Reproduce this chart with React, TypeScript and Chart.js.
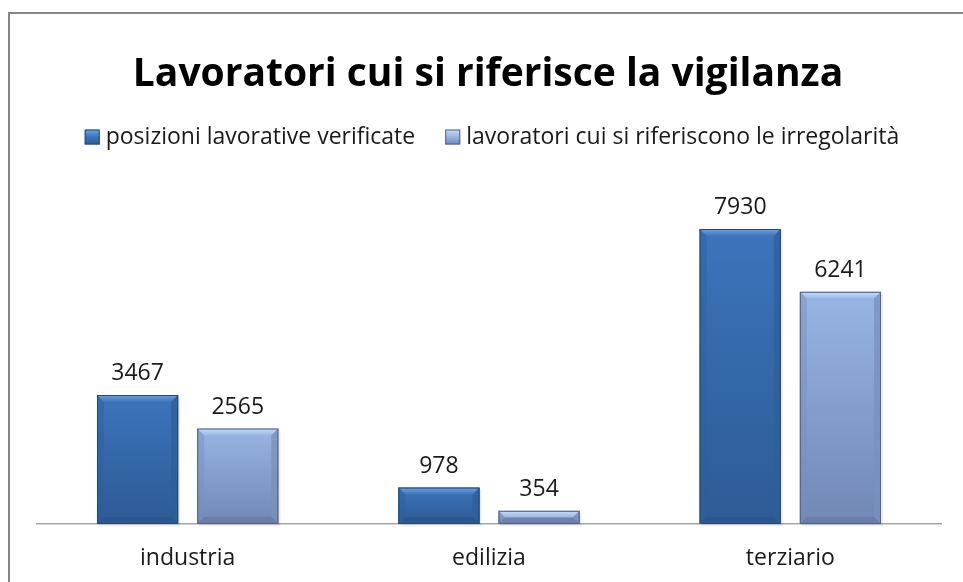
import React, { useEffect, useRef } from "react";
import { Chart, registerables } from "chart.js";

Chart.register(...registerables);

const TITLE = "Lavoratori cui si riferisce la vigilanza";
const categories = ["industria", "edilizia", "terziario"];
const seriesNames = ["posizioni lavorative verificate", "lavoratori cui si riferiscono le irregolarità"];
const posizioni = [3467, 978, 7930];
const irregolarita = [2565, 354, 6241];

const FONT = "'Open Sans', 'Noto Sans', sans-serif";

const palettes = [
  { top: "#3c74bb", bottom: "#2d5b95", hi: "#6fa3e2", side: "#2f5f9b", low: "#2a5388", edge: "#24497a" },
  { top: "#97b5e4", bottom: "#7187b4", hi: "#cadcf6", side: "#7890bd", low: "#62769e", edge: "#4f6185" },
];

const framePlugin = {
  id: "frame",
  beforeDraw(chart: any) {
    const ctx = chart.ctx;
    ctx.save();
    ctx.fillStyle = "#ffffff";
    ctx.fillRect(0, 0, chart.width, chart.height);
    ctx.strokeStyle = "#868686";
    ctx.lineWidth = 2;
    ctx.beginPath();
    ctx.moveTo(9, chart.height);
    ctx.lineTo(9, 13);
    ctx.lineTo(chart.width, 13);
    ctx.stroke();
    ctx.restore();
  },
};

const headerPlugin = {
  id: "header",
  afterDraw(chart: any) {
    const ctx = chart.ctx;
    ctx.save();
    ctx.fillStyle = "#000000";
    ctx.font = `bold 39px ${FONT}`;
    ctx.textAlign = "center";
    ctx.textBaseline = "alphabetic";
    ctx.fillText(TITLE, 488, 86);

    // legend
    ctx.font = `23px ${FONT}`;
    const box = 15;
    const gapBoxText = 6;
    const gapItems = 30;
    const widths = chart.data.datasets.map((d: any) => ctx.measureText(d.label).width);
    const total = widths.reduce((a: number, w: number) => a + box + gapBoxText + w, 0) + gapItems * (widths.length - 1);
    let x = 492 - total / 2;
    const cy = 137;
    chart.data.datasets.forEach((d: any, i: number) => {
      const p = palettes[i];
      const g = ctx.createLinearGradient(0, cy - box / 2, 0, cy + box / 2);
      g.addColorStop(0, p.hi);
      g.addColorStop(0.5, p.top);
      g.addColorStop(1, p.bottom);
      ctx.fillStyle = g;
      ctx.fillRect(x, cy - box / 2, box, box);
      ctx.strokeStyle = p.edge;
      ctx.lineWidth = 1;
      ctx.strokeRect(x + 0.5, cy - box / 2 + 0.5, box - 1, box - 1);
      x += box + gapBoxText;
      ctx.fillStyle = "#1a1a1a";
      ctx.textAlign = "left";
      ctx.textBaseline = "middle";
      ctx.fillText(d.label, x, cy);
      x += widths[i] + gapItems;
    });
    ctx.restore();
  },
};

const bevelPlugin = {
  id: "bevel",
  afterDatasetsDraw(chart: any) {
    const ctx = chart.ctx;
    ctx.save();
    chart.data.datasets.forEach((ds: any, di: number) => {
      const meta = chart.getDatasetMeta(di);
      const p = palettes[di];
      meta.data.forEach((bar: any, i: number) => {
        const { x, y, base, width } = bar.getProps(["x", "y", "base", "width"], true);
        const l = x - width / 2;
        const r = x + width / 2;
        const t = y;
        const b = base;
        const h = b - t;
        const bv = Math.min(7, h / 2);
        // shadow
        ctx.fillStyle = "rgba(0,0,0,0.07)";
        ctx.fillRect(l + 2, t + 2, width, h);
        // base
        const g = ctx.createLinearGradient(0, t, 0, b);
        g.addColorStop(0, p.top);
        g.addColorStop(1, p.bottom);
        ctx.fillStyle = g;
        ctx.fillRect(l, t, width, h);
        // top bevel
        const gt = ctx.createLinearGradient(0, t, 0, t + bv);
        gt.addColorStop(0, p.hi);
        gt.addColorStop(1, p.top);
        ctx.fillStyle = gt;
        ctx.beginPath();
        ctx.moveTo(l, t);
        ctx.lineTo(r, t);
        ctx.lineTo(r - bv, t + bv);
        ctx.lineTo(l + bv, t + bv);
        ctx.closePath();
        ctx.fill();
        // left bevel
        ctx.fillStyle = p.side;
        ctx.globalAlpha = 0.45;
        ctx.beginPath();
        ctx.moveTo(l, t);
        ctx.lineTo(l + bv, t + bv);
        ctx.lineTo(l + bv, b - bv);
        ctx.lineTo(l, b);
        ctx.closePath();
        ctx.fill();
        // right bevel
        ctx.globalAlpha = 0.75;
        ctx.beginPath();
        ctx.moveTo(r, t);
        ctx.lineTo(r - bv, t + bv);
        ctx.lineTo(r - bv, b - bv);
        ctx.lineTo(r, b);
        ctx.closePath();
        ctx.fill();
        // bottom bevel
        ctx.globalAlpha = 0.6;
        ctx.fillStyle = p.low;
        ctx.beginPath();
        ctx.moveTo(l, b);
        ctx.lineTo(l + bv, b - bv);
        ctx.lineTo(r - bv, b - bv);
        ctx.lineTo(r, b);
        ctx.closePath();
        ctx.fill();
        ctx.globalAlpha = 1;
        ctx.strokeStyle = p.edge;
        ctx.lineWidth = 1;
        ctx.strokeRect(l + 0.5, t + 0.5, width - 1, h - 1);

        // value label
        ctx.fillStyle = "#1a1a1a";
        ctx.font = `23px ${FONT}`;
        ctx.textAlign = "center";
        ctx.textBaseline = "alphabetic";
        ctx.fillText(String(ds.data[i]), x, t - 15);
      });
    });
    ctx.restore();
  },
};

export default function App() {
  const ref = useRef<HTMLCanvasElement | null>(null);
  useEffect(() => {
    if (!ref.current) return;
    const chart = new Chart(ref.current, {
      type: "bar",
      data: {
        labels: categories,
        datasets: [
          { label: seriesNames[0], data: posizioni, backgroundColor: palettes[0].top },
          { label: seriesNames[1], data: irregolarita, backgroundColor: palettes[1].top },
        ],
      },
      options: {
        animation: false,
        responsive: true,
        maintainAspectRatio: false,
        layout: { padding: { top: 152, left: 37, right: 22, bottom: 13 } },
        plugins: { legend: { display: false }, title: { display: false }, tooltip: { enabled: false } },
        datasets: { bar: { categoryPercentage: 0.665, barPercentage: 0.81 } },
        scales: {
          x: {
            grid: { display: false, drawTicks: false },
            border: { display: true, color: "#a6a6a6", width: 1.5 },
            ticks: { color: "#1a1a1a", font: { family: FONT, size: 23 }, padding: 21 },
            afterFit: (scale: any) => {
              scale.height = 45;
            },
          },
          y: { display: false, min: 0, max: 10000 },
        },
      },
      plugins: [framePlugin, bevelPlugin, headerPlugin],
    });
    return () => chart.destroy();
  }, []);
  return (
    <div style={{ position: "fixed", left: 0, top: 0, width: 963, height: 582 }}>
      <canvas ref={ref} />
    </div>
  );
}
